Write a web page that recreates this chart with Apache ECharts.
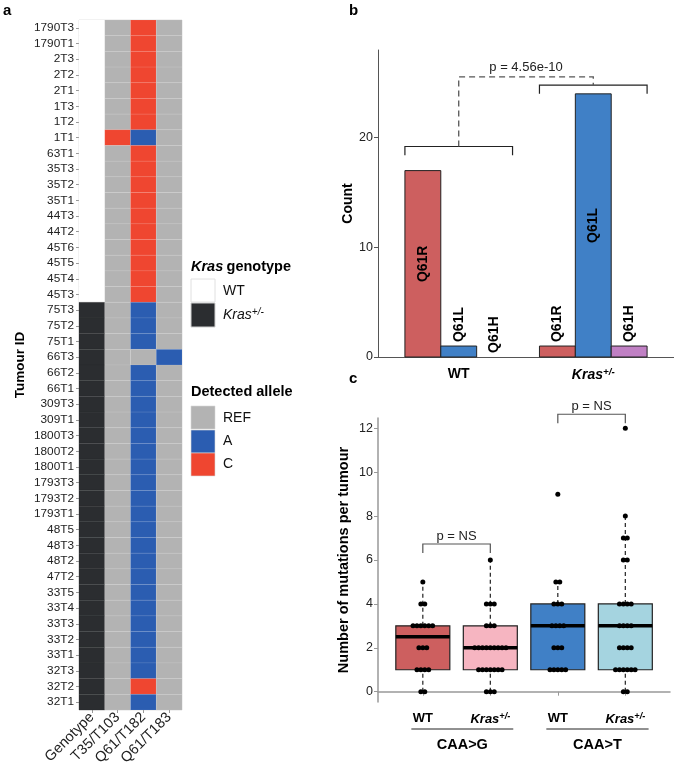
<!DOCTYPE html>
<html><head><meta charset="utf-8">
<script src="https://cdn.jsdelivr.net/npm/echarts@6/dist/echarts.min.js"></script>
<style>html,body{margin:0;padding:0;background:#fff}#c{width:674px;height:770px}</style>
</head><body><div id="c"></div><script>
const FONT = '"Liberation Sans", Arial, Helvetica, sans-serif';

// ---------- Panel a data ----------
const tumourIds = ['1790T3','1790T1','2T3','2T2','2T1','1T3','1T2','1T1','63T1','35T3','35T2','35T1','44T3','44T2','45T6','45T5','45T4','45T3',
  '75T3','75T2','75T1','66T3','66T2','66T1','309T3','309T1','1800T3','1800T2','1800T1','1793T3','1793T2','1793T1','48T5','48T3','48T2','47T2',
  '33T5','33T4','33T3','33T2','33T1','32T3','32T2','32T1'];
const heatColumns = ['Genotype','T35/T103','Q61/T182','Q61/T183'];
const genotype = ['WT','WT','WT','WT','WT','WT','WT','WT','WT','WT','WT','WT','WT','WT','WT','WT','WT','WT',
  'Kras','Kras','Kras','Kras','Kras','Kras','Kras','Kras','Kras','Kras','Kras','Kras','Kras','Kras','Kras','Kras','Kras','Kras',
  'Kras','Kras','Kras','Kras','Kras','Kras','Kras','Kras'];
const t35t103 = ['REF','REF','REF','REF','REF','REF','REF','C','REF','REF','REF','REF','REF','REF','REF','REF','REF','REF',
  'REF','REF','REF','REF','REF','REF','REF','REF','REF','REF','REF','REF','REF','REF','REF','REF','REF','REF',
  'REF','REF','REF','REF','REF','REF','REF','REF'];
const q61t182 = ['C','C','C','C','C','C','C','A','C','C','C','C','C','C','C','C','C','C',
  'A','A','A','REF','A','A','A','A','A','A','A','A','A','A','A','A','A','A',
  'A','A','A','A','A','A','C','A'];
const q61t183 = ['REF','REF','REF','REF','REF','REF','REF','REF','REF','REF','REF','REF','REF','REF','REF','REF','REF','REF',
  'REF','REF','REF','A','REF','REF','REF','REF','REF','REF','REF','REF','REF','REF','REF','REF','REF','REF',
  'REF','REF','REF','REF','REF','REF','REF','REF'];

// ---------- Panel b data ----------
const barGroups = ['WT','Kras+/-'];
const mutationTypes = ['Q61R','Q61L','Q61H'];
const countsWT = [17, 1, 0];
const countsKras = [1, 24, 1];
const countTicks = [0, 10, 20];
const pValueB = 'p = 4.56e-10';

// ---------- Panel c data ----------
const boxLabels = ['WT','Kras+/-','WT','Kras+/-'];
const substitutions = ['CAA>G','CAA>T'];
const boxLow    = [0, 0, 1, 0];
const boxQ1     = [1, 1, 1, 1];
const boxMedian = [2.5, 2, 3, 3];
const boxQ3     = [3, 3, 4, 4];
const boxHigh   = [5, 6, 5, 8];
const dotsG_WT   = [0,0,1,1,1,1,2,2,2,3,3,3,3,3,3,4,4,5];
const dotsG_Kras = [0,0,0,1,1,1,1,1,1,1,2,2,2,2,2,2,2,2,2,3,3,3,4,4,4,6];
const dotsT_WT   = [1,1,1,1,1,2,2,2,3,3,3,3,4,4,4,5,5,9];
const dotsT_Kras = [0,0,1,1,1,1,1,1,2,2,2,2,3,3,3,3,4,4,4,4,6,6,7,7,8,12];
const mutTicks = [0, 2, 4, 6, 8, 10, 12];
const pValueC = ['p = NS', 'p = NS'];

// ---------- styles ----------
const stateColors = { WT:'#ffffff', Kras:'#2b2d30', REF:'#b3b3b3', A:'#2b5db1', C:'#ef4630' };
const mutColors = ['#cd5f5f', '#4080c6', '#c080c4'];
const boxColors = ['#cd5f5f', '#f6b5c1', '#4080c6', '#a5d4e0'];

// build heat data
const heatCols = [genotype, t35t103, q61t182, q61t183];
const heatData = [];
heatCols.forEach((col, j) => col.forEach((s, i) => heatData.push([j, i, s])));

// bar data
const BAR_W = 0.8 / 3;
const barData = [];
[countsWT, countsKras].forEach((arr, g) => arr.forEach((v, t) => barData.push([g + 1 + (t - 1) * BAR_W, v, t])));

// box data
const boxData = boxLow.map((l, i) => [i + 1, l, boxQ1[i], boxMedian[i], boxQ3[i], boxHigh[i], i]);

// dots
const DOT_STEP = 0.058;
function dotPoints(pos, values) {
  const counts = new Map();
  values.forEach(v => counts.set(v, (counts.get(v) || 0) + 1));
  const pts = [];
  counts.forEach((n, v) => { for (let k = 0; k < n; k++) pts.push([pos + (k - (n - 1) / 2) * DOT_STEP, v]); });
  return pts;
}
const dotData = [].concat(dotPoints(1, dotsG_WT), dotPoints(2, dotsG_Kras), dotPoints(3, dotsT_WT), dotPoints(4, dotsT_Kras));

const richKras = (size, bold) => ({
  b: { fontFamily: FONT, fontSize: size, fontWeight: bold ? 'bold' : 'normal', color: '#000' },
  k: { fontFamily: FONT, fontSize: size, fontWeight: bold ? 'bold' : 'normal', fontStyle: 'italic', color: '#000' },
  s: { fontFamily: FONT, fontSize: size * 0.7, fontWeight: bold ? 'bold' : 'normal', fontStyle: 'italic', color: '#000', verticalAlign: 'top', padding: [0, 0, size * 0.45, 0] }
});
const krasFmt = (lab) => lab === 'Kras+/-' ? '{k|Kras}{s|+/-}' : '{b|' + lab + '}';

const chart = echarts.init(document.getElementById('c'), null, { renderer: 'canvas' });

const option = {
  animation: false,
  backgroundColor: '#fff',
  textStyle: { fontFamily: FONT },
  grid: [
    { left: 79, top: 20, width: 103, height: 690, show: true, borderColor: '#e2e2e2', borderWidth: 1, backgroundColor: 'transparent' },
    { left: 378, top: 50, width: 296, height: 307 },
    { left: 378, top: 418, width: 292, height: 284 }
  ],
  xAxis: [
    { gridIndex: 0, type: 'category', data: heatColumns, position: 'bottom',
      axisLine: { show: false }, axisTick: { show: true, alignWithLabel: true, length: 3, lineStyle: { color: '#999' } },
      axisLabel: { rotate: 45, interval: 0, fontSize: 14.5, color: '#222', margin: 5, fontFamily: FONT }, splitLine: { show: false } },
    { gridIndex: 1, type: 'value', min: 0.4, max: 2.6,
      axisLine: { show: true, lineStyle: { color: '#555', width: 1 } }, axisTick: { show: false }, splitLine: { show: false },
      axisLabel: { customValues: [1, 2], margin: 10, formatter: v => krasFmt(barGroups[Math.round(v) - 1]), rich: richKras(14, true) } },
    { gridIndex: 2, type: 'value', min: 0.336, max: 4.662,
      axisLine: { show: true, lineStyle: { color: '#999', width: 1.5 } },
      axisTick: { show: true, customValues: [1, 2, 3, 4], length: 4, lineStyle: { color: '#999' } }, splitLine: { show: false },
      axisLabel: { customValues: [1, 2, 3, 4], margin: 10, formatter: v => krasFmt(boxLabels[Math.round(v) - 1]), rich: richKras(13, true) } }
  ],
  yAxis: [
    { gridIndex: 0, type: 'category', data: tumourIds, inverse: true,
      axisLine: { show: false }, axisTick: { show: true, alignWithLabel: true, length: 3, lineStyle: { color: '#999' } },
      axisLabel: { interval: 0, fontSize: 11.8, color: '#222', margin: 5, fontFamily: FONT }, splitLine: { show: false },
      name: 'Tumour ID', nameLocation: 'middle', nameGap: 52, nameRotate: 90,
      nameTextStyle: { fontSize: 13.5, fontWeight: 'bold', color: '#000', fontFamily: FONT } },
    { gridIndex: 1, type: 'value', min: 0, max: 28,
      axisLine: { show: true, lineStyle: { color: '#555', width: 1 } },
      axisTick: { show: true, customValues: countTicks, length: 4, lineStyle: { color: '#555' } },
      axisLabel: { customValues: countTicks, fontSize: 12.5, color: '#222', margin: 5, fontFamily: FONT }, splitLine: { show: false },
      name: 'Count', nameLocation: 'middle', nameGap: 22, nameRotate: 90,
      nameTextStyle: { fontSize: 14, fontWeight: 'bold', color: '#000', fontFamily: FONT } },
    { gridIndex: 2, type: 'value', min: -0.47, max: 12.47,
      axisLine: { show: true, lineStyle: { color: '#999', width: 1.5 } },
      axisTick: { show: true, customValues: mutTicks, length: 4, lineStyle: { color: '#999' } },
      axisLabel: { customValues: mutTicks, fontSize: 12.5, color: '#222', margin: 5, fontFamily: FONT }, splitLine: { show: false },
      name: 'Number of mutations per tumour', nameLocation: 'middle', nameGap: 27, nameRotate: 90,
      nameTextStyle: { fontSize: 14.5, fontWeight: 'bold', color: '#000', fontFamily: FONT } }
  ],
  series: [
    // heatmap cells
    { type: 'custom', xAxisIndex: 0, yAxisIndex: 0, data: heatData,
      renderItem: (params, api) => {
        const j = api.value(0), i = api.value(1);
        const state = heatData[params.dataIndex][2];
        const c = api.coord([j, i]); const s = api.size([1, 1]);
        return { type: 'rect', shape: { x: c[0] - s[0] / 2, y: c[1] - s[1] / 2, width: s[0], height: s[1] },
          style: { fill: stateColors[state], stroke: j === 0 ? stateColors[state] : 'rgba(255,255,255,0.12)', lineWidth: j === 0 ? 0.2 : 0.6 } };
      } },
    // bars
    { type: 'custom', xAxisIndex: 1, yAxisIndex: 1, data: barData, clip: false, z: 3,
      renderItem: (params, api) => {
        const x = api.value(0), v = api.value(1), t = api.value(2);
        const p0 = api.coord([x - BAR_W / 2, 0]); const p1 = api.coord([x + BAR_W / 2, v]);
        const children = [];
        if (v > 0) children.push({ type: 'rect', shape: { x: p0[0], y: p1[1], width: p1[0] - p0[0], height: p0[1] - p1[1] },
          style: { fill: mutColors[t], stroke: '#222', lineWidth: 1 } });
        const big = v > 5;
        const pc = api.coord([x, big ? v / 2 : v]);
        children.push({ type: 'text', x: pc[0], y: big ? pc[1] : pc[1] - 4, rotation: Math.PI / 2,
          style: { text: mutationTypes[t], fontFamily: FONT, fontSize: 14, fontWeight: 'bold', fill: '#000',
            align: big ? 'center' : 'left', verticalAlign: 'middle' } });
        return { type: 'group', children };
      } },
    // bar annotation (brackets + p-value)
    { type: 'custom', xAxisIndex: 1, yAxisIndex: 1, data: [[0]], clip: false, z: 4,
      renderItem: (params, api) => {
        const c = (x, y) => api.coord([x, y]);
        const solid = { stroke: '#222', lineWidth: 1.2, fill: null };
        const dashed = { stroke: '#555', lineWidth: 1.3, lineDash: [6, 4], fill: null };
        const poly = (pts, st) => ({ type: 'polyline', shape: { points: pts }, style: st });
        const t = c(1.5, 26.4);
        return { type: 'group', children: [
          poly([c(0.6, 18.4), c(0.6, 19.2), c(1.4, 19.2), c(1.4, 18.4)], solid),
          poly([c(1.6, 24.0), c(1.6, 24.8), c(2.4, 24.8), c(2.4, 24.0)], solid),
          poly([c(1, 19.2), c(1, 25.55), c(2, 25.55), c(2, 24.8)], dashed),
          { type: 'text', x: t[0], y: t[1], style: { text: pValueB, fontFamily: FONT, fontSize: 13, fill: '#222', align: 'center', verticalAlign: 'middle' } }
        ] };
      } },
    // boxes
    { type: 'custom', xAxisIndex: 2, yAxisIndex: 2, data: boxData, z: 3,
      renderItem: (params, api) => {
        const pos = api.value(0), lo = api.value(1), q1 = api.value(2), md = api.value(3), q3 = api.value(4), hi = api.value(5);
        const k = api.value(6);
        const h = 0.4;
        const a = api.coord([pos - h, q3]); const b = api.coord([pos + h, q1]);
        const cl = api.coord([pos, lo]); const c1 = api.coord([pos, q1]); const c3 = api.coord([pos, q3]); const ch = api.coord([pos, hi]);
        const m = api.coord([pos, md]);
        const wh = { stroke: '#222', lineWidth: 1.2, lineDash: [4, 3] };
        const children = [];
        if (lo < q1) children.push({ type: 'line', shape: { x1: cl[0], y1: cl[1], x2: c1[0], y2: c1[1] }, style: wh });
        if (hi > q3) children.push({ type: 'line', shape: { x1: c3[0], y1: c3[1], x2: ch[0], y2: ch[1] }, style: wh });
        children.push({ type: 'rect', shape: { x: a[0], y: a[1], width: b[0] - a[0], height: b[1] - a[1] },
          style: { fill: boxColors[k], stroke: '#222', lineWidth: 1.2 } });
        children.push({ type: 'line', shape: { x1: a[0], y1: m[1], x2: b[0], y2: m[1] }, style: { stroke: '#000', lineWidth: 3.5 } });
        return { type: 'group', children };
      } },
    // dots
    { type: 'scatter', xAxisIndex: 2, yAxisIndex: 2, data: dotData, symbol: 'circle', symbolSize: 5, z: 5,
      itemStyle: { color: '#000', opacity: 1 }, silent: true },
    // box annotations
    { type: 'custom', xAxisIndex: 2, yAxisIndex: 2, data: [[0]], clip: false, z: 4,
      renderItem: (params, api) => {
        const c = (x, y) => api.coord([x, y]);
        const st = { stroke: '#555', lineWidth: 1.2, fill: null };
        const poly = (pts) => ({ type: 'polyline', shape: { points: pts }, style: st });
        const t1 = c(1.5, 6.73), t2 = c(3.5, 12.64);
        const bottom = c(0, -0.47)[1];
        const children = [
          poly([c(1, 6.32), c(1, 6.73), c(2, 6.73), c(2, 6.32)]),
          poly([c(3, 12.23), c(3, 12.64), c(4, 12.64), c(4, 12.23)]),
          { type: 'text', x: t1[0], y: t1[1] - 1, style: { text: pValueC[0], fontFamily: FONT, fontSize: 13, fill: '#222', align: 'center', verticalAlign: 'bottom' } },
          { type: 'text', x: t2[0], y: t2[1] - 1, style: { text: pValueC[1], fontFamily: FONT, fontSize: 13, fill: '#222', align: 'center', verticalAlign: 'bottom' } }
        ];
        [[0.83, 2.34], [2.83, 4.345]].forEach((r, g) => {
          const l = c(r[0], 0)[0], rr = c(r[1], 0)[0];
          children.push({ type: 'line', shape: { x1: l, y1: bottom + 27, x2: rr, y2: bottom + 27 }, style: { stroke: '#222', lineWidth: 1 } });
          children.push({ type: 'text', x: (l + rr) / 2, y: bottom + 43, style: { text: substitutions[g], fontFamily: FONT, fontSize: 14.5, fontWeight: 'bold', fill: '#000', align: 'center', verticalAlign: 'middle' } });
        });
        return { type: 'group', children };
      } }
  ],
  graphic: [
    { type: 'text', left: 3, top: 3, style: { text: 'a', fontFamily: FONT, fontSize: 15, fontWeight: 'bold', fill: '#000' } },
    { type: 'text', left: 349, top: 3, style: { text: 'b', fontFamily: FONT, fontSize: 15, fontWeight: 'bold', fill: '#000' } },
    { type: 'text', left: 349, top: 371, style: { text: 'c', fontFamily: FONT, fontSize: 15, fontWeight: 'bold', fill: '#000' } },
    // legend: Kras genotype
    { type: 'text', x: 191, y: 267, style: { text: '{k|Kras} {b|genotype}', verticalAlign: 'middle',
      rich: { k: { fontFamily: FONT, fontSize: 14.5, fontWeight: 'bold', fontStyle: 'italic', fill: '#000' }, b: { fontFamily: FONT, fontSize: 14.5, fontWeight: 'bold', fill: '#000' } } } },
    { type: 'rect', shape: { x: 191, y: 279, width: 24, height: 23 }, style: { fill: stateColors.WT, stroke: '#e0e0e0', lineWidth: 1 } },
    { type: 'rect', shape: { x: 191, y: 303, width: 24, height: 24 }, style: { fill: stateColors.Kras, stroke: '#d0d0d0', lineWidth: 1 } },
    { type: 'text', x: 223, y: 291, style: { text: 'WT', fontFamily: FONT, fontSize: 14, fill: '#111', verticalAlign: 'middle' } },
    { type: 'text', x: 223, y: 315, style: { text: '{k|Kras}{s|+/-}', verticalAlign: 'middle',
      rich: { k: { fontFamily: FONT, fontSize: 14, fontStyle: 'italic', fill: '#111' }, s: { fontFamily: FONT, fontSize: 10, fontStyle: 'italic', fill: '#111', verticalAlign: 'top', padding: [0, 0, 6, 0] } } } },
    // legend: Detected allele
    { type: 'text', x: 191, y: 392, style: { text: 'Detected allele', fontFamily: FONT, fontSize: 14.5, fontWeight: 'bold', fill: '#000', verticalAlign: 'middle' } },
    { type: 'rect', shape: { x: 191, y: 406, width: 24, height: 23 }, style: { fill: stateColors.REF, stroke: '#d8d8d8', lineWidth: 0.6 } },
    { type: 'rect', shape: { x: 191, y: 430, width: 24, height: 23 }, style: { fill: stateColors.A, stroke: '#d8d8d8', lineWidth: 0.6 } },
    { type: 'rect', shape: { x: 191, y: 453, width: 24, height: 23 }, style: { fill: stateColors.C, stroke: '#d8d8d8', lineWidth: 0.6 } },
    { type: 'text', x: 223, y: 418, style: { text: 'REF', fontFamily: FONT, fontSize: 14, fill: '#111', verticalAlign: 'middle' } },
    { type: 'text', x: 223, y: 441, style: { text: 'A', fontFamily: FONT, fontSize: 14, fill: '#111', verticalAlign: 'middle' } },
    { type: 'text', x: 223, y: 464, style: { text: 'C', fontFamily: FONT, fontSize: 14, fill: '#111', verticalAlign: 'middle' } }
  ]
};
chart.setOption(option);
</script></body></html>
